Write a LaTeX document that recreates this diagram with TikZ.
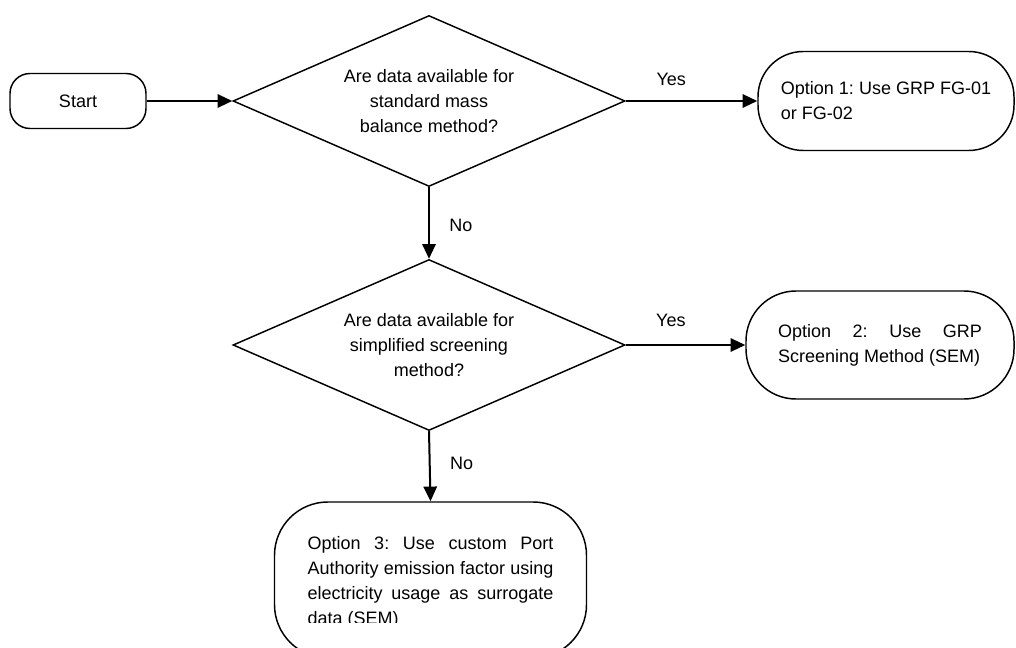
\documentclass[tikz,border=0pt]{standalone}
\usepackage{fontspec}
\setmainfont{Liberation Sans}
\frenchspacing
\usepackage{tikz}
\usetikzlibrary{arrows.meta,shapes.geometric,positioning}
\newcommand{\chartfont}{\fontsize{13.5pt}{18.75pt}\selectfont}
\tikzset{
  termbox/.style={rectangle, rounded corners=#1, draw=black, line width=1.1pt, align=center, font=\chartfont, inner sep=0pt},
  termbox/.default=15pt,
  decbox/.style={diamond, aspect=2.29, draw=black, line width=1.1pt, align=center, font=\chartfont, minimum width=294pt, minimum height=128.25pt, inner sep=0pt},
  boxtext/.style={font=\chartfont, align=justify, inner sep=0pt},
  flowarrow/.style={-{Triangle[length=11pt,width=10pt]}, line width=1.5pt, draw=black},
  flowlabel/.style={font=\chartfont, inner sep=0pt},
}

\begin{document}
\begin{tikzpicture}[x=0.75pt,y=-0.75pt]
  \useasboundingbox (0,0) rectangle (1016,648);
  \clip (0,0) rectangle (1016,648);

  \node[termbox=15pt, minimum width=102pt, minimum height=41.25pt] (start) at (78,101) {Start};

  \node[decbox] (qmass)   at (429,101) {Are data available for\\standard mass\\balance method?};
  \node[decbox] (qscreen) at (429,345) {Are data available for\\simplified screening\\method?};

  \node[termbox=34pt, minimum width=192pt, minimum height=74.25pt, align=left] (opt1) at (886,101) {Option 1: Use GRP FG-01\\or FG-02};
  \node[termbox=37.5pt, minimum width=201pt, minimum height=81pt, text width=153pt, align=justify] (opt2) at (880,345) {Option 2: Use GRP\linebreak Screening Method (SEM)};
  \node[termbox=40pt, minimum width=234pt, minimum height=117pt] (opt3) at (430.5,580) {};
  % text runs past the bottom of the box, cut like the source
  \begin{scope}
    \clip (opt3.north west) rectangle (opt3.east |- 0,622);
    \node[boxtext, text width=184.5pt] (opt3txt) at ([yshift=-2pt]opt3.center) {Option 3: Use custom Port\linebreak Authority emission factor using\linebreak electricity usage as surrogate\linebreak data (SEM)};
  \end{scope}

  \draw[flowarrow] (start.east) -- (qmass.west);
  \draw[flowarrow] (qmass.east) -- node[flowlabel, pos=0.346, above=10.5pt] (yes1) {Yes} (opt1.west);
  \draw[flowarrow] (qmass.south) -- node[flowlabel, pos=0.534, right=14.6pt] (no1) {No} (qscreen.north);
  \draw[flowarrow] (qscreen.east) -- node[flowlabel, pos=0.378, above=12.75pt] (yes2) {Yes} (opt2.west);
  \draw[flowarrow] (qscreen.south) -- node[flowlabel, pos=0.458, right=14.6pt] (no2) {No} (opt3.north);
\end{tikzpicture}
\end{document}
